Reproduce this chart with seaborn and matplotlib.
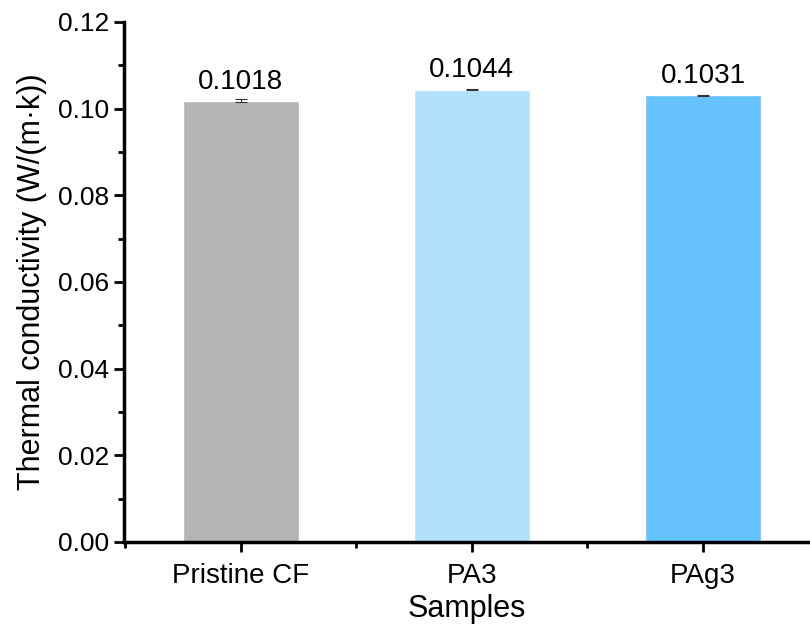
import numpy as np
import pandas as pd
import seaborn as sns
import matplotlib.pyplot as plt
from matplotlib.ticker import MultipleLocator

samples = ['Pristine CF', 'PA3', 'PAg3']
conductivity = [0.1018, 0.1044, 0.1031]
errors = [0.0003, 0.0002, 0.0001]
colors = ['#b4b4b4', '#b3e0fb', '#66c2fb']

sns.set_style('ticks')
plt.rcParams['font.family'] = ['Liberation Sans', 'DejaVu Sans']
plt.rcParams['text.color'] = 'black'
plt.rcParams['axes.labelcolor'] = 'black'
plt.rcParams['xtick.color'] = 'black'
plt.rcParams['ytick.color'] = 'black'
plt.rcParams['axes.edgecolor'] = 'black'

df = pd.DataFrame({'sample': samples, 'k': conductivity})

fig = plt.figure(figsize=(8.1, 6.35), dpi=100)
ax = fig.add_axes([0.153, 0.1465, 0.847, 0.819])
sns.barplot(data=df, x='sample', y='k', hue='sample', palette=colors,
            width=0.5, legend=False, errorbar=None, ax=ax, saturation=1)
ax.errorbar(np.arange(len(samples)), conductivity, yerr=errors, fmt='none',
            ecolor='#333333', elinewidth=0.8, capsize=4, capthick=0.8)

for i, v in enumerate(conductivity):
    ax.text(i, v + 0.0014, f'{v:.4f}', ha='center', va='bottom', fontsize=20)

ax.set_xlim(-0.506, 2.463)
ax.set_ylim(0, 0.12)
ax.yaxis.set_major_locator(MultipleLocator(0.02))
ax.yaxis.set_minor_locator(MultipleLocator(0.01))
ax.xaxis.set_minor_locator(MultipleLocator(0.5))
ax.yaxis.set_major_formatter(plt.FormatStrFormatter('%.2f'))

ax.set_xlabel('Samples', fontsize=22, labelpad=4)
ax.set_ylabel('Thermal conductivity (W/(m·k))', fontsize=22, labelpad=8)
ax.tick_params(axis='both', which='major', width=2, length=7, direction='out')
ax.tick_params(axis='y', which='major', labelsize=19)
ax.tick_params(axis='x', which='major', labelsize=20, pad=8)
ax.tick_params(axis='both', which='minor', width=2, length=4, direction='out')

for s in ['top', 'right']:
    ax.spines[s].set_visible(False)
for s in ['left', 'bottom']:
    ax.spines[s].set_linewidth(2.5)

fig.savefig('out.png', dpi=100)
